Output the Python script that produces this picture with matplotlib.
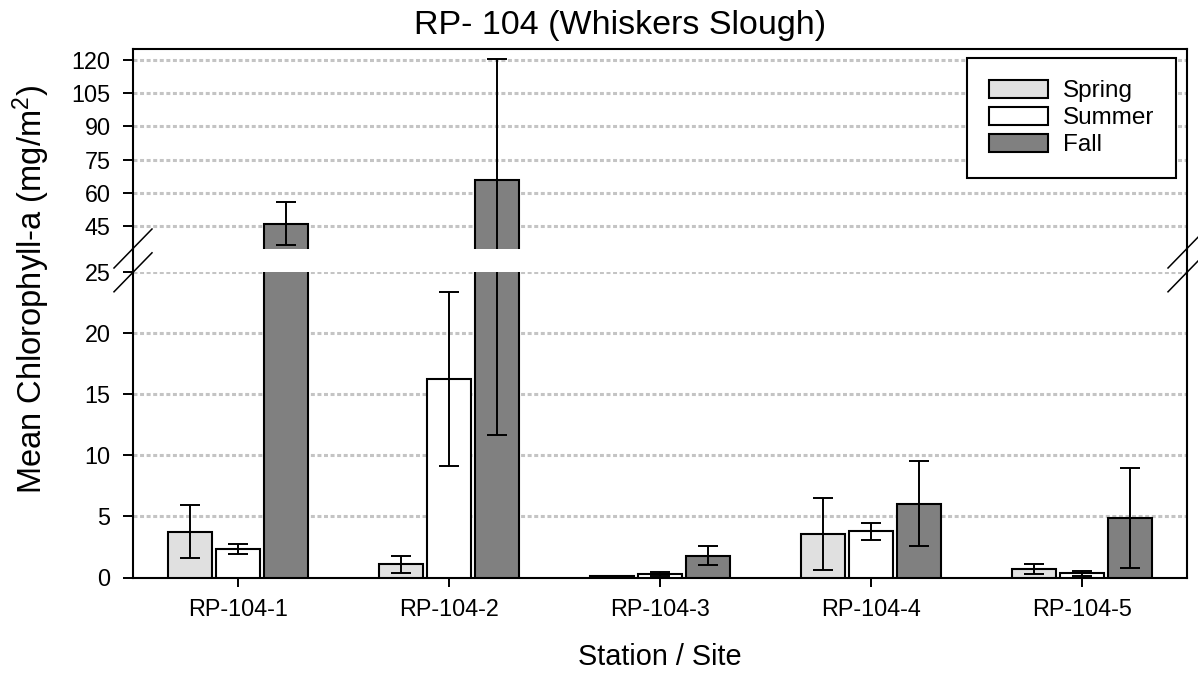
import numpy as np
import matplotlib
matplotlib.use("Agg")
import matplotlib.pyplot as plt
from matplotlib.lines import Line2D

plt.rcParams['font.family'] = ['Liberation Sans', 'DejaVu Sans']
plt.rcParams['mathtext.fontset'] = 'custom'
plt.rcParams['mathtext.rm'] = 'Liberation Sans'
plt.rcParams['mathtext.it'] = 'Liberation Sans:italic'

# ---- data ----
stations = ['RP-104-1', 'RP-104-2', 'RP-104-3', 'RP-104-4', 'RP-104-5']
seasons = ['Spring', 'Summer', 'Fall']
spring = [3.75, 1.07, 0.12, 3.60, 0.66]
spring_err = [2.18, 0.69, 0.03, 2.95, 0.41]
summer = [2.37, 16.25, 0.27, 3.78, 0.33]
summer_err = [0.41, 7.10, 0.14, 0.70, 0.24]
fall = [46.0, 66.0, 1.80, 6.03, 4.85]
fall_err = [9.7, 54.3, 0.75, 3.49, 4.08]
upper_ticks = [45, 60, 75, 90, 105, 120]
lower_ticks = [0, 5, 10, 15, 20, 25]

title = 'RP- 104 (Whiskers Slough)'
xlabel = 'Station / Site'
ylabel = 'Mean Chlorophyll-a (mg/m$^{2}$)'

colors = ['#e0e0e0', '#ffffff', '#808080']
series = [spring, summer, fall]
errors = [spring_err, summer_err, fall_err]

W_PX, H_PX = 1198, 680
fig = plt.figure(figsize=(W_PX / 100, H_PX / 100), dpi=100)

left_px, right_px = 133, 1187
up_top, up_bot = 49, 248.5
lo_top, lo_bot = 272.3, 577.5

L = left_px / W_PX
Wd = (right_px - left_px) / W_PX
ax_up = fig.add_axes([L, 1 - up_bot / H_PX, Wd, (up_bot - up_top) / H_PX])
ax_lo = fig.add_axes([L, 1 - lo_bot / H_PX, Wd, (lo_bot - lo_top) / H_PX])

x = np.arange(len(stations))
offs = [-0.2275, 0.0, 0.2275]
width = 0.2085

grid_kw = dict(color='#c4c4c4', linewidth=2.2, linestyle=(0, (1.3, 0.85)))

for ax in (ax_up, ax_lo):
    for vals, errs, col, off, lab in zip(series, errors, colors, offs, seasons):
        ax.bar(x + off, vals, width, color=col, edgecolor='black', linewidth=1.5,
               yerr=errs, label=lab, zorder=3,
               error_kw=dict(ecolor='black', elinewidth=1.4, capsize=7.2,
                             capthick=1.4, zorder=4))
    ax.set_xlim(-0.5, len(stations) - 0.5)
    ax.set_axisbelow(True)
    ax.yaxis.grid(True, **grid_kw)
    ax.xaxis.grid(False)
    for s in ax.spines.values():
        s.set_linewidth(1.5)
    ax.tick_params(axis='y', direction='out', length=7.2, width=1.4,
                   labelsize=16.8, pad=9)

ax_up.set_ylim(34.875, 125)
ax_up.set_yticks(upper_ticks)
ax_up.spines['bottom'].set_visible(False)
ax_up.tick_params(axis='x', bottom=False, labelbottom=False)

ax_lo.set_ylim(0, 25)
ax_lo.set_yticks(lower_ticks)
ax_lo.spines['top'].set_visible(False)
ax_lo.set_xticks(x)
ax_lo.set_xticklabels(stations)
ax_lo.tick_params(axis='x', direction='out', length=6.5, width=1.4,
                  labelsize=16.8, pad=8.5)
for gl, t in zip(ax_lo.yaxis.get_gridlines(), lower_ticks):
    if t == 0:
        gl.set_visible(False)

# continuous spines across the gap + break marks
for xp in (left_px, right_px):
    fig.add_artist(Line2D([xp / W_PX, xp / W_PX],
                          [1 - lo_top / H_PX, 1 - up_bot / H_PX],
                          transform=fig.transFigure, color='black', lw=1.5))
    for yp in (up_bot, lo_top):
        fig.add_artist(Line2D([(xp - 19) / W_PX, (xp + 19) / W_PX],
                              [1 - (yp + 19.5) / H_PX, 1 - (yp - 19.5) / H_PX],
                              transform=fig.transFigure, color='black', lw=1.1))

leg = ax_up.legend(loc='upper right', bbox_to_anchor=(0.9896, 0.9534),
                   borderaxespad=0, fontsize=17.5, frameon=True, fancybox=False,
                   framealpha=1, edgecolor='black', handlelength=2.45,
                   handleheight=0.72, handletextpad=0.6, borderpad=0.9,
                   labelspacing=0.2)
leg.get_frame().set_linewidth(1.5)
for h in leg.legend_handles:
    h.set_linewidth(1.5)

fig.text(620.5 / W_PX, 1 - 34 / H_PX, title, ha='center', va='baseline', fontsize=24.5)
fig.text(660 / W_PX, 1 - 665 / H_PX, xlabel, ha='center', va='baseline', fontsize=20.8)
fig.text(31 / W_PX, 1 - 289 / H_PX, ylabel, rotation=90, ha='center', va='center',
         fontsize=23.5)

fig.savefig('out.png', dpi=100)
